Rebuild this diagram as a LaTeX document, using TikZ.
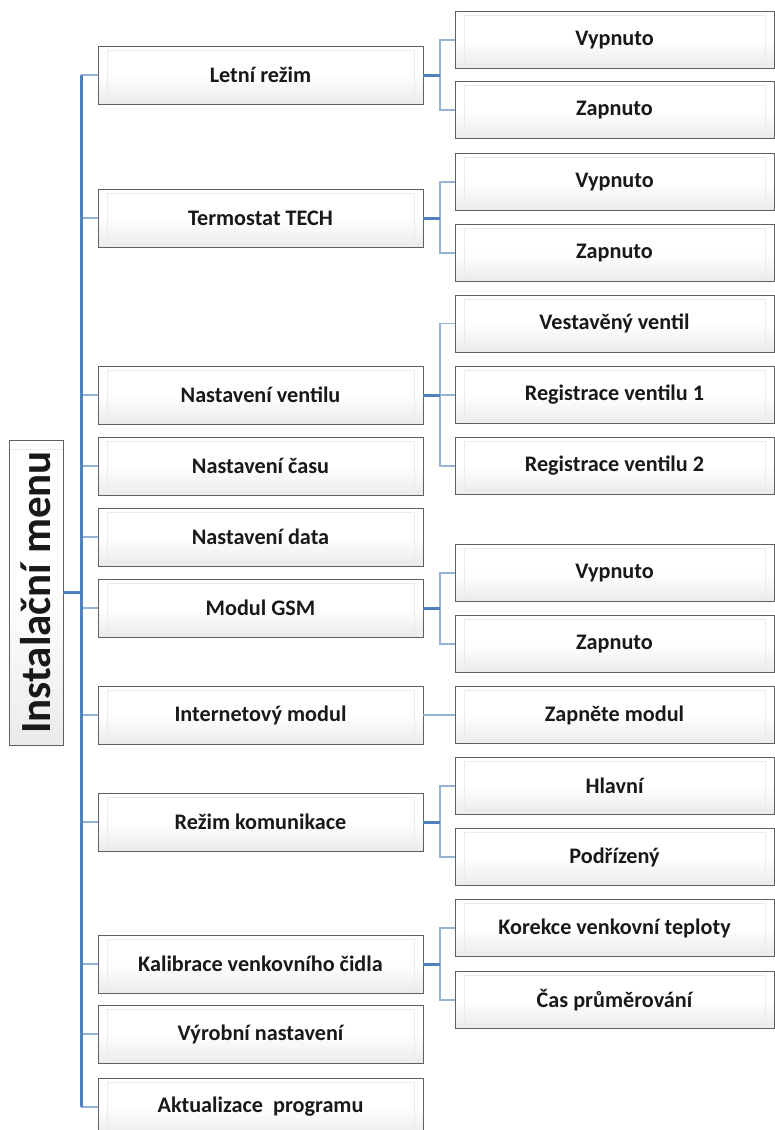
\documentclass[tikz,border=0pt]{standalone}
\usepackage{fontspec}
\setmainfont{Carlito}
\definecolor{stemblue}{RGB}{79,129,189}
\definecolor{twigblue}{RGB}{149,179,215}
\tikzset{
  menubox/.style = {draw=gray!75!black, line width=1pt, top color=white, bottom color=gray!16, middle color=white,
    inner sep=0pt, outer sep=0pt, minimum width=325pt, minimum height=58pt,
    font=\fontsize{22.2}{26}\selectfont\bfseries, text=black!90,
    path picture={\draw[gray!16, line width=0.8pt]
      ([shift={(9pt,4pt)}]path picture bounding box.south west) rectangle
      ([shift={(-9pt,-4pt)}]path picture bounding box.north east);}},
  subbox/.style = {menubox, minimum width=319pt, minimum height=57pt},
  rootbox/.style = {menubox, rotate=90, minimum width=305pt, minimum height=54pt,
    font=\fontsize{43}{48}\selectfont\bfseries},
  stem/.style = {stemblue, line width=3pt},
  twig/.style = {twigblue, line width=1.8pt}
}

\begin{document}
\begin{tikzpicture}[x=1pt, y=-1pt]
\useasboundingbox (0,0) rectangle (775,1130);
\coordinate (T) at (81,0);
\coordinate (S) at (440,0);

\node[rootbox] (M) at (36,592.5) {Instalační menu};

\node[menubox] (A) at (260.5,75) {Letní režim};
\node[menubox] (B) at (260.5,218) {Termostat TECH};
\node[menubox] (C) at (260.5,395) {Nastavení ventilu};
\node[menubox] (D) at (260.5,466) {Nastavení času};
\node[menubox] (E) at (260.5,537) {Nastavení data};
\node[menubox] (F) at (260.5,608) {Modul GSM};
\node[menubox] (G) at (260.5,715) {Internetový modul};
\node[menubox] (H) at (260.5,822) {Režim komunikace};
\node[menubox] (I) at (260.5,964) {Kalibrace venkovního čidla};
\node[menubox] (J) at (260.5,1034) {Výrobní nastavení};
\node[menubox] (K) at (260.5,1107) {Aktualizace\ \ programu};

\node[subbox] (A1) at (614.5,40) {Vypnuto};
\node[subbox] (A2) at (614.5,110) {Zapnuto};
\node[subbox] (B1) at (614.5,182) {Vypnuto};
\node[subbox] (B2) at (614.5,253) {Zapnuto};
\node[subbox] (C1) at (614.5,323.5) {Vestavěný ventil};
\node[subbox] (C2) at (614.5,395) {Registrace ventilu 1};
\node[subbox] (C3) at (614.5,466) {Registrace ventilu 2};
\node[subbox] (F1) at (614.5,573) {Vypnuto};
\node[subbox] (F2) at (614.5,644) {Zapnuto};
\node[subbox] (G1) at (614.5,715) {Zapněte modul};
\node[subbox] (H1) at (614.5,786) {Hlavní};
\node[subbox] (H2) at (614.5,857) {Podřízený};
\node[subbox] (I1) at (614.5,928) {Korekce venkovní teploty};
\node[subbox] (I2) at (614.5,1000) {Čas průměrování};

\draw[twig] (A.west) -- (A.west -| T);
\draw[twig] (B.west) -- (B.west -| T);
\draw[twig] (C.west) -- (C.west -| T);
\draw[twig] (D.west) -- (D.west -| T);
\draw[twig] (E.west) -- (E.west -| T);
\draw[twig] (F.west) -- (F.west -| T);
\draw[twig] (G.west) -- (G.west -| T);
\draw[twig] (H.west) -- (H.west -| T);
\draw[twig] (I.west) -- (I.west -| T);
\draw[twig] (J.west) -- (J.west -| T);
\draw[twig] (K.west) -- (K.west -| T);
\draw[stem] (A.west -| T) -- (K.west -| T);
\draw[stem] (M.south) -- (M.south -| T);

\draw[twig] (A1.west) -- (A1.west -| S) -- (A2.west -| S) -- (A2.west);
\draw[twig] (B1.west) -- (B1.west -| S) -- (B2.west -| S) -- (B2.west);
\draw[twig] (C1.west) -- (C1.west -| S) -- (C3.west -| S) -- (C3.west);
\draw[twig] (C2.west) -- (C2.west -| S);
\draw[twig] (F1.west) -- (F1.west -| S) -- (F2.west -| S) -- (F2.west);
\draw[twig] (H1.west) -- (H1.west -| S) -- (H2.west -| S) -- (H2.west);
\draw[twig] (I1.west) -- (I1.west -| S) -- (I2.west -| S) -- (I2.west);
\draw[twig] (G.east) -- (G1.west);
\draw[stem] (A.east) -- (A.east -| S);
\draw[stem] (B.east) -- (B.east -| S);
\draw[stem] (C.east) -- (C.east -| S);
\draw[stem] (F.east) -- (F.east -| S);
\draw[stem] (H.east) -- (H.east -| S);
\draw[stem] (I.east) -- (I.east -| S);
\end{tikzpicture}
\end{document}
